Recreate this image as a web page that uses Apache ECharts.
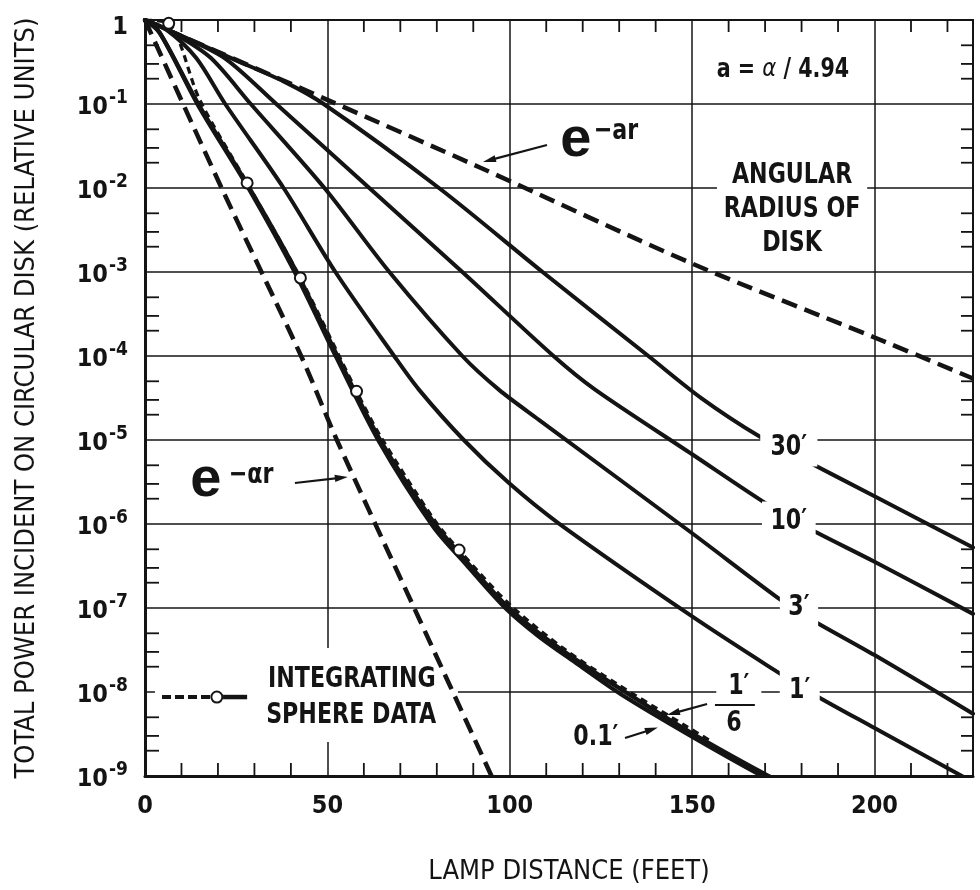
<!DOCTYPE html>
<html>
<head>
<meta charset="utf-8">
<script src="https://cdn.jsdelivr.net/npm/echarts@6/dist/echarts.min.js"></script>
<style>
html,body{margin:0;padding:0;background:#fff;}
#chart{width:980px;height:890px;}
</style>
</head>
<body>
<div id="chart"></div>
<script>
// ---------- tick labels ----------
const distanceTicks = [0, 50, 100, 150, 200];
const distanceMinorTicks = [10, 20, 30, 40, 60, 70, 80, 90, 110, 120, 130, 140, 160, 170, 180, 190, 210, 220];
const decadeExponents = [0, -1, -2, -3, -4, -5, -6, -7, -8, -9];
const minorMultipliers = [2, 3, 5];

// ---------- series values: [lamp distance (ft), relative power] ----------
const expAlphaR = [[0, 1], [21, 1e-2], [42.8, 1e-4], [52.6, 1e-5], [73.8, 1e-7], [95, 1e-9]];
const expAR = [[0, 1], [50, 0.112], [91.5, 0.0178], [150, 1.26e-3], [200, 1.66e-4], [227, 5.4e-5]];

const radius30 = [[0, 1], [10, 0.646], [25, 0.331], [38, 0.186], [49, 0.1], [80.6, 0.01], [109, 1e-3], [138, 1e-4],
  [152.5, 3.16e-5], [168.5, 1.10e-5], [180, 6.03e-6], [200, 2.14e-6], [227, 5.25e-7]];
const radius10 = [[0, 1], [10, 0.646], [22, 0.347], [36, 0.1], [61.5, 0.01], [87, 1e-3], [112, 1e-4],
  [123.4, 3.98e-5], [150, 6.76e-6], [170, 1.78e-6], [181, 9.33e-7], [200, 3.55e-7], [227, 8.51e-8]];
const radius3 = [[0, 1], [8, 0.692], [18, 0.355], [29, 0.1], [49.2, 0.01], [67, 1e-3], [87, 1e-4], [97, 3.98e-5],
  [108, 1.74e-5], [150, 7.76e-7], [173.5, 1.32e-7], [181.2, 7.94e-8], [200, 2.75e-8], [227, 5.5e-9]];
const radius1 = [[0, 1], [6, 0.759], [14, 0.355], [22, 0.1], [38, 0.01], [52.2, 1e-3], [68.3, 1e-4], [75.1, 3.98e-5],
  [87.4, 1e-5], [99.7, 3.09e-6], [113.4, 1.02e-6], [150, 7.94e-8], [172.6, 1.82e-8], [183, 9.55e-9],
  [200, 3.72e-9], [222.7, 1.07e-9], [227, 8.5e-10]];
const radiusSixth = [[0, 1], [4, 0.708], [14.5, 0.102], [28.5, 0.0102], [41.3, 1.05e-3], [52.5, 1.05e-4],
  [64.2, 1.05e-5], [79, 1.07e-6], [88, 3.63e-7], [98.8, 1.1e-7], [108, 5.01e-8], [118, 2.45e-8],
  [130.6, 1.07e-8], [149.5, 3.31e-9], [170, 1.05e-9], [175, 8.32e-10]];
const radiusTenth = [[0, 1], [4, 0.708], [14.5, 0.0977], [28.5, 9.77e-3], [41.3, 9.55e-4], [52.5, 9.55e-5],
  [64.2, 9.55e-6], [79, 9.33e-7], [88, 3.31e-7], [98.8, 1.0e-7], [108, 4.57e-8], [118, 2.24e-8],
  [130.6, 9.33e-9], [149.5, 3.02e-9], [170, 9.55e-10], [175, 7.59e-10]];
const sphereCurve = [[0, 1], [6.5, 0.912], [15, 0.112], [28, 0.0115], [42.6, 8.51e-4], [58, 3.80e-5],
  [64.5, 1.12e-5], [79, 1.17e-6], [86.1, 4.90e-7], [100, 1.10e-7], [115, 3.24e-8], [130, 1.20e-8], [155, 2.63e-9]];
const spherePoints = [[6.5, 0.912], [28, 0.0115], [42.6, 8.51e-4], [58, 3.80e-5], [86.1, 4.90e-7]];

// ---------- styling ----------
const INK = '#141414';
const COND = "'DejaVu Sans Condensed','Liberation Sans Narrow','Arial Narrow',sans-serif";
const WIDE = "'Liberation Sans',Arial,'DejaVu Sans',sans-serif";

const toAxis = arr => arr.map(([r, v]) => [r, Math.log10(v)]);

const yMinorTicks = [];
decadeExponents.filter(e => e < 0).forEach(e => minorMultipliers.forEach(m => yMinorTicks.push([0, e + Math.log10(m)])));

function solid(name, data, width) {
  return {
    type: 'line', name, data: toAxis(data), smooth: 0.3, symbol: 'none', z: 2,
    lineStyle: { color: INK, width: width, cap: 'round', join: 'round' }
  };
}
function dashed(name, data, width, dash) {
  return {
    type: 'line', name, data: toAxis(data), smooth: 0.3, symbol: 'none', z: 3,
    lineStyle: { color: INK, width: width, type: dash }
  };
}

const option = {
  animation: false,
  backgroundColor: '#ffffff',
  grid: { left: 145, right: 7, top: 20, bottom: 114, show: true, borderColor: INK, borderWidth: 2,
          backgroundColor: 'transparent', outerBoundsMode: 'none', containLabel: false },
  xAxis: {
    type: 'value', min: 0, max: 227, interval: 50,
    axisLine: { show: true, onZero: false, lineStyle: { color: INK, width: 3 } },
    axisTick: { show: false },
    axisLabel: {
      margin: 18, color: INK, fontFamily: COND, fontWeight: 'bold', fontSize: 25,
      formatter: v => distanceTicks.includes(v) ? String(v) : ''
    },
    splitLine: { show: true, lineStyle: { color: INK, width: 1.5 } },
    name: 'LAMP DISTANCE (FEET)', nameLocation: 'middle', nameGap: 82,
    nameTextStyle: { fontFamily: COND, fontSize: 27, color: INK, padding: [0, 0, 0, 20] }
  },
  yAxis: {
    type: 'value', min: -9, max: 0, interval: 1,
    axisLine: { show: true, onZero: false, lineStyle: { color: INK, width: 3 } },
    axisTick: { show: false },
    axisLabel: {
      margin: 17,
      formatter: v => v === 0 ? '{t|1}' : '{b|10}{s|-' + Math.abs(v) + '}',
      rich: {
        b: { fontFamily: COND, fontWeight: 'bold', fontSize: 25, color: INK, verticalAlign: 'bottom' },
        s: { fontFamily: COND, fontWeight: 'bold', fontSize: 19, color: INK, verticalAlign: 'bottom', padding: [0, 0, 12, 1] },
        t: { fontFamily: COND, fontWeight: 'bold', fontSize: 25, color: INK, padding: [14, 0, 0, 0] }
      }
    },
    splitLine: { show: true, lineStyle: { color: INK, width: 1.5 } },
    name: 'TOTAL POWER INCIDENT ON CIRCULAR DISK (RELATIVE UNITS)',
    nameLocation: 'middle', nameGap: 105, nameRotate: 90,
    nameTextStyle: { fontFamily: COND, fontSize: 27, color: INK }
  },
  series: [
    solid('30′', radius30, 4),
    solid('10′', radius10, 4),
    solid('3′', radius3, 4),
    solid('1′', radius1, 4),
    solid('1/6′', radiusSixth, 4.2),
    solid('0.1′', radiusTenth, 4.2),
    dashed('e^-ar', expAR, 4.5, [16, 8]),
    dashed('e^-αr', expAlphaR, 4.5, [16, 8]),
    dashed('Integrating sphere data', sphereCurve, 3.2, [7, 5]),
    {
      type: 'scatter', name: 'Integrating sphere points', data: toAxis(spherePoints), z: 5,
      symbol: 'circle', symbolSize: 11,
      itemStyle: { color: '#ffffff', borderColor: INK, borderWidth: 2, opacity: 1 }
    },
    {
      type: 'custom', name: 'distance minor ticks', silent: true, z: 3,
      data: distanceMinorTicks.map(v => [v, -9]),
      renderItem(params, api) {
        const cs = params.coordSys;
        const x = api.coord([api.value(0), -9])[0];
        return { type: 'group', children: [
          { type: 'line', shape: { x1: x, y1: cs.y + cs.height, x2: x, y2: cs.y + cs.height - 13 }, style: { stroke: INK, lineWidth: 1.8 } },
          { type: 'line', shape: { x1: x, y1: cs.y, x2: x, y2: cs.y + 12 }, style: { stroke: INK, lineWidth: 1.8 } }
        ] };
      }
    },
    {
      type: 'custom', name: 'power minor ticks', silent: true, z: 3,
      data: yMinorTicks,
      renderItem(params, api) {
        const cs = params.coordSys;
        const y = api.coord([0, api.value(1)])[1];
        return { type: 'group', children: [
          { type: 'line', shape: { x1: cs.x, y1: y, x2: cs.x + 14, y2: y }, style: { stroke: INK, lineWidth: 1.8 } },
          { type: 'line', shape: { x1: cs.x + cs.width - 12, y1: y, x2: cs.x + cs.width, y2: y }, style: { stroke: INK, lineWidth: 1.8 } }
        ] };
      }
    }
  ]
};

const chart = echarts.init(document.getElementById('chart'), null, { renderer: 'canvas' });
chart.setOption(option);

// ---------- annotations (anchored in axis units: [feet, log10 power]) ----------
const P = p => chart.convertToPixel({ xAxisIndex: 0, yAxisIndex: 0 }, p);
const els = [];
function text(at, str, st, extra) {
  const p = P(at);
  els.push(Object.assign({ type: 'text', x: p[0], y: p[1], z: 10, silent: true, scaleX: 0.85,
    style: Object.assign({ text: str, fill: INK, align: 'center', verticalAlign: 'middle',
      fontFamily: COND, fontWeight: 'bold', fontSize: 29 }, st) }, extra || {}));
}
function arrow(from, to) {
  const a = P(from), b = P(to);
  const dx = b[0] - a[0], dy = b[1] - a[1], len = Math.hypot(dx, dy);
  const ux = dx / len, uy = dy / len, nx = -uy, ny = ux;
  const hl = 13, hw = 3.6;
  els.push({ type: 'line', z: 11, silent: true, shape: { x1: a[0], y1: a[1], x2: b[0] - ux * 8, y2: b[1] - uy * 8 },
    style: { stroke: INK, lineWidth: 2.2 } });
  els.push({ type: 'polygon', z: 11, silent: true, shape: { points: [
    [b[0], b[1]], [b[0] - ux * hl + nx * hw, b[1] - uy * hl + ny * hw], [b[0] - ux * hl - nx * hw, b[1] - uy * hl - ny * hw]] },
    style: { fill: INK } });
}

// formula note
text([174.9, -0.595], '{n|a = }{i|α}{n| / 4.94}', {
  rich: { n: { fontFamily: COND, fontWeight: 'bold', fontSize: 27, fill: INK },
          i: { fontFamily: "'DejaVu Sans','Liberation Sans',sans-serif", fontStyle: 'italic', fontSize: 25, fill: INK } }
});
// e^{-ar}
text([118.1, -1.43], 'e', { fontFamily: WIDE, fontSize: 56 }, { scaleX: 1 });
text([129.1, -1.33], '−ar', { fontSize: 29 });
arrow([110.2, -1.488], [92.65, -1.69]);
// angular radius block
text([177.4, -2.25], 'ANGULAR\nRADIUS OF\nDISK', { lineHeight: 34, backgroundColor: '#ffffff', padding: [2, 8] });
// curve labels
text([176.5, -5.083], '30′', { backgroundColor: '#ffffff', padding: [5, 12] });
text([176.5, -5.964], '10′', { backgroundColor: '#ffffff', padding: [5, 10] });
text([179.3, -6.988], '3′', { backgroundColor: '#ffffff', padding: [5, 10] });
text([179.5, -7.976], '1′', { backgroundColor: '#ffffff', padding: [5, 11] });
text([162.8, -7.929], '1′', { backgroundColor: '#ffffff', padding: [2, 14] });
(function () {
  const a = P([156.25, -8.155]), b = P([167.2, -8.155]);
  els.push({ type: 'line', z: 11, silent: true, shape: { x1: a[0], y1: a[1], x2: b[0], y2: b[1] }, style: { stroke: INK, lineWidth: 2 } });
})();
text([161.5, -8.369], '6', {});
arrow([154.1, -8.143], [143.1, -8.274]);
text([123.6, -8.536], '0.1′', {});
arrow([131.6, -8.548], [140.6, -8.423]);
// e^{-αr}
text([16.7, -5.488], 'e', { fontFamily: WIDE, fontSize: 56 }, { scaleX: 1 });
text([29.1, -5.417], '−αr', { fontSize: 29 });
arrow([41.1, -5.512], [55.6, -5.44]);
// legend block
(function () {
  const a = P([2.74, -7.476]), b = P([85.8, -8.595]);
  els.push({ type: 'rect', z: 1, silent: true, shape: { x: a[0], y: a[1], width: b[0] - a[0], height: b[1] - a[1] }, style: { fill: '#ffffff' } });
  const l1 = P([4.66, -8.06]), l2 = P([18.37, -8.06]), c = P([19.7, -8.06]), s1 = P([21.4, -8.06]), s2 = P([28.0, -8.06]);
  els.push({ type: 'line', z: 11, silent: true, shape: { x1: l1[0], y1: l1[1], x2: l2[0], y2: l2[1] }, style: { stroke: INK, lineWidth: 4, lineDash: [9, 4] } });
  els.push({ type: 'line', z: 11, silent: true, shape: { x1: s1[0], y1: s1[1], x2: s2[0], y2: s2[1] }, style: { stroke: INK, lineWidth: 4.5 } });
  els.push({ type: 'circle', z: 12, silent: true, shape: { cx: c[0], cy: c[1], r: 5.5 }, style: { fill: '#ffffff', stroke: INK, lineWidth: 2 } });
})();
text([56.7, -7.845], 'INTEGRATING', {});
text([56.5, -8.274], 'SPHERE DATA', {});

chart.setOption({ graphic: { elements: els } });
</script>
</body>
</html>
